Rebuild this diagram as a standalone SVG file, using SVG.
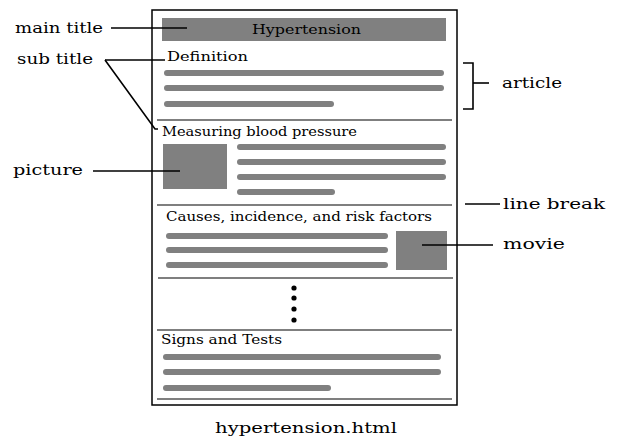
<svg xmlns="http://www.w3.org/2000/svg" width="617" height="441" viewBox="0 0 617 441">
<style>
  .lbl { font-family: "DejaVu Serif", "Liberation Serif", serif; font-size: 15px; fill: #000; }
  .in { font-family: "DejaVu Serif", "Liberation Serif", serif; font-size: 12px; fill: #000; }
  .bar { stroke: #808080; stroke-width: 6; stroke-linecap: round; fill: none; }
  .blk { fill: #808080; }
  .sep { stroke: #000; stroke-width: 1.2; }
  .ln { stroke: #000; stroke-width: 1.6; fill: none; }
</style>
<rect width="617" height="441" fill="#fff"/>

<g id="page">
  <rect x="152" y="10" width="305" height="395" fill="#fff" stroke="#000" stroke-width="1.5"/>
</g>

<g id="main-title-bar">
  <rect class="blk" x="162" y="18" width="284" height="23"/>
  <text class="in" x="252" y="34" textLength="109" lengthAdjust="spacingAndGlyphs">Hypertension</text>
</g>

<g id="section-definition">
  <text class="in" x="167" y="61" textLength="81" lengthAdjust="spacingAndGlyphs">Definition</text>
  <line class="bar" x1="167" y1="73" x2="441" y2="73"/>
  <line class="bar" x1="167" y1="88" x2="441" y2="88"/>
  <line class="bar" x1="167" y1="104" x2="331" y2="104"/>
  <line class="sep" x1="157" y1="120" x2="452" y2="120"/>
</g>

<g id="section-measuring">
  <text class="in" x="162" y="136" textLength="195" lengthAdjust="spacingAndGlyphs">Measuring blood pressure</text>
  <rect class="blk" x="163" y="144" width="64" height="45"/>
  <line class="bar" x1="240" y1="147" x2="443" y2="147"/>
  <line class="bar" x1="240" y1="162" x2="443" y2="162"/>
  <line class="bar" x1="240" y1="177" x2="443" y2="177"/>
  <line class="bar" x1="240" y1="192" x2="332" y2="192"/>
  <line class="sep" x1="157" y1="205" x2="452" y2="205"/>
</g>

<g id="section-causes">
  <text class="in" x="166" y="221" textLength="266" lengthAdjust="spacingAndGlyphs">Causes, incidence, and risk factors</text>
  <line class="bar" x1="169" y1="236" x2="385" y2="236"/>
  <line class="bar" x1="169" y1="250" x2="385" y2="250"/>
  <line class="bar" x1="169" y1="265" x2="385" y2="265"/>
  <rect class="blk" x="396" y="231" width="51" height="39"/>
  <line class="sep" x1="158" y1="278" x2="453" y2="278"/>
</g>

<g id="ellipsis">
  <circle cx="294" cy="288" r="2.6" fill="#000"/>
  <circle cx="294" cy="298" r="2.6" fill="#000"/>
  <circle cx="294" cy="309" r="2.6" fill="#000"/>
  <circle cx="294" cy="320" r="2.6" fill="#000"/>
  <line class="sep" x1="157" y1="330" x2="452" y2="330"/>
</g>

<g id="section-signs">
  <text class="in" x="161" y="344" textLength="121" lengthAdjust="spacingAndGlyphs">Signs and Tests</text>
  <line class="bar" x1="166" y1="357" x2="438" y2="357"/>
  <line class="bar" x1="166" y1="372" x2="438" y2="372"/>
  <line class="bar" x1="166" y1="388" x2="328" y2="388"/>
  <line class="sep" x1="157" y1="399" x2="452" y2="399"/>
</g>

<g id="caption">
  <text class="lbl" x="215" y="433" textLength="182" lengthAdjust="spacingAndGlyphs">hypertension.html</text>
</g>

<g id="label-main-title">
  <text class="lbl" x="15" y="33" textLength="88" lengthAdjust="spacingAndGlyphs">main title</text>
</g>
<g id="label-sub-title">
  <text class="lbl" x="17" y="64" textLength="76" lengthAdjust="spacingAndGlyphs">sub title</text>
</g>
<g id="label-picture">
  <text class="lbl" x="13" y="175" textLength="70" lengthAdjust="spacingAndGlyphs">picture</text>
</g>
<g id="label-article">
  <text class="lbl" x="502" y="88" textLength="60" lengthAdjust="spacingAndGlyphs">article</text>
</g>
<g id="label-line-break">
  <text class="lbl" x="503" y="209" textLength="102" lengthAdjust="spacingAndGlyphs">line break</text>
</g>
<g id="label-movie">
  <text class="lbl" x="503" y="249" textLength="62" lengthAdjust="spacingAndGlyphs">movie</text>
</g>

<g id="connectors">
  <line class="ln" x1="111" y1="28" x2="187" y2="28"/>
  <line class="ln" x1="105" y1="60" x2="165" y2="60"/>
  <polyline class="ln" points="105,60 155,129 158,129"/>
  <line class="ln" x1="93" y1="171" x2="180" y2="171"/>
  <polyline class="ln" points="463,63 473,63 473,109 463,109"/>
  <line class="ln" x1="473" y1="83" x2="489" y2="83"/>
  <line class="ln" x1="465" y1="204" x2="500" y2="204"/>
  <line class="ln" x1="422" y1="245" x2="493" y2="245"/>
</g>
</svg>
